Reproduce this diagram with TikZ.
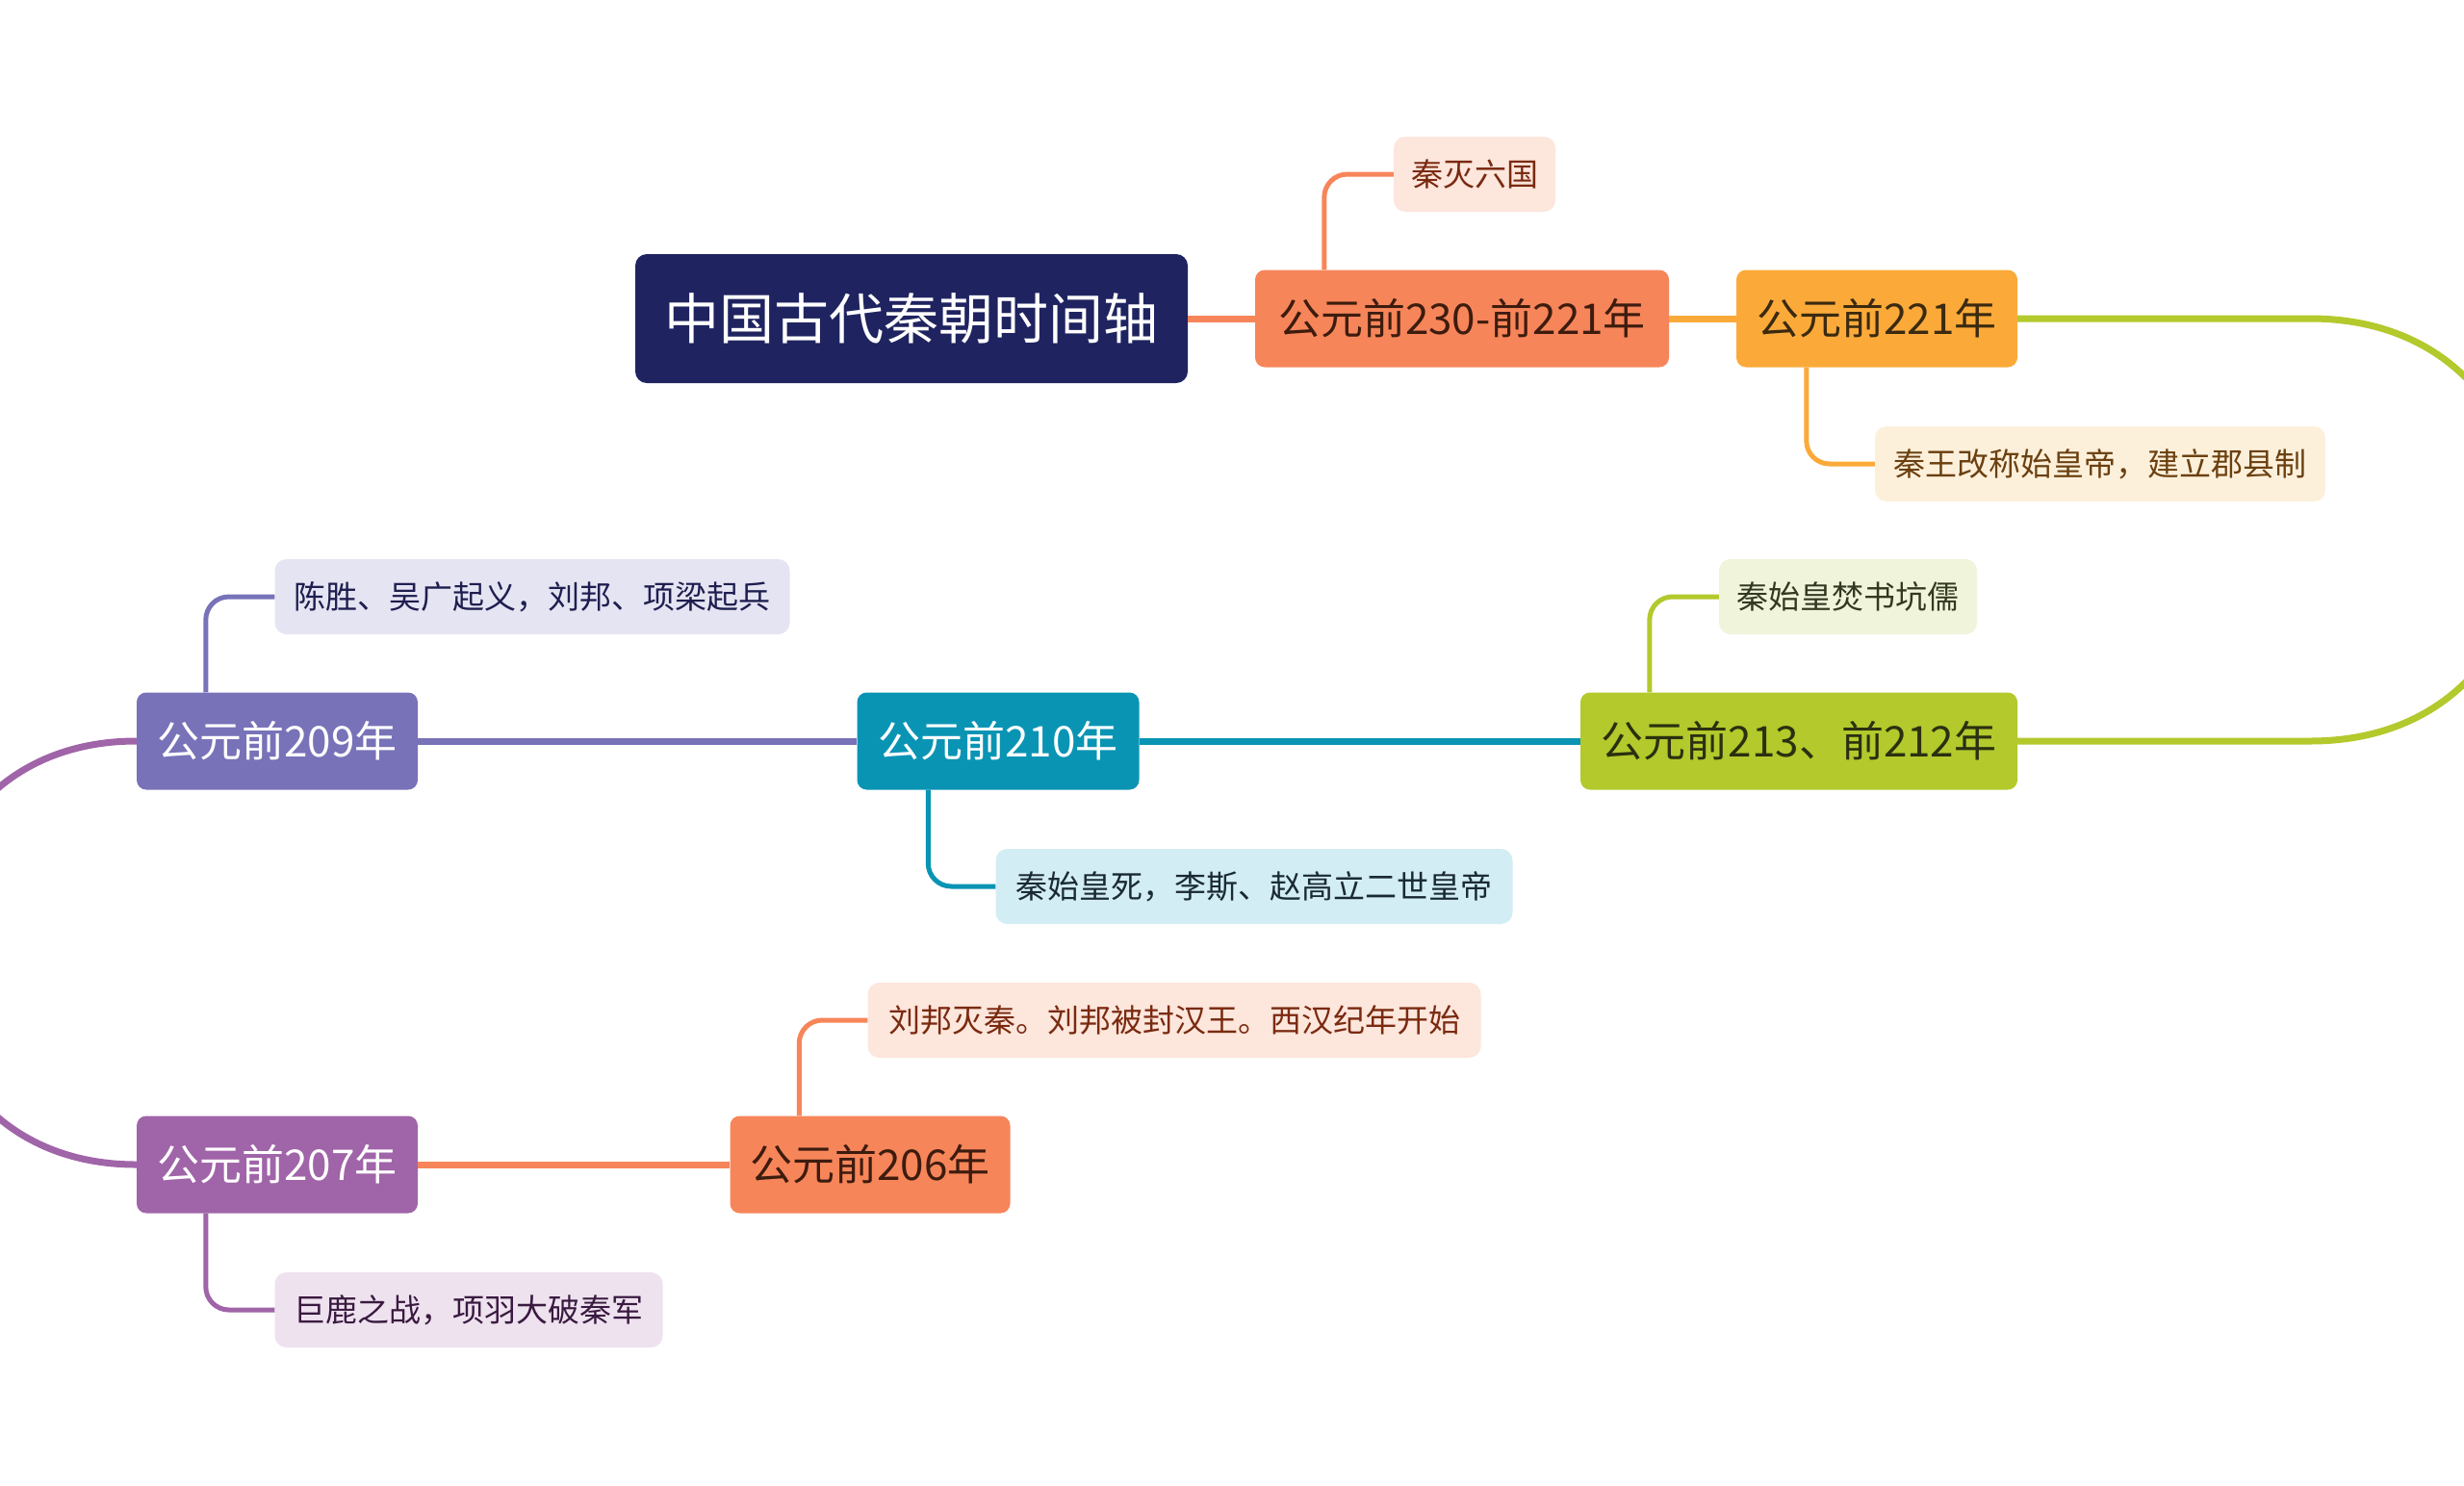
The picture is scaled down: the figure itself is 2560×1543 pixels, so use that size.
\documentclass[tikz,border=0pt]{standalone}
\usepackage{fontspec}
\setmainfont{Noto Sans CJK SC}
\usetikzlibrary{calc}
\definecolor{cRoot}{HTML}{1F2460}
\definecolor{cOrange}{HTML}{F7855A}
\definecolor{cYellow}{HTML}{FBAA3A}
\definecolor{cGreen}{HTML}{B3C92C}
\definecolor{cTeal}{HTML}{0A94B4}
\definecolor{cPurpleA}{HTML}{7872B8}
\definecolor{cPurpleB}{HTML}{A064A8}
\definecolor{lOrange}{HTML}{FDE6DC}
\definecolor{lYellow}{HTML}{FDF0DB}
\definecolor{lGreen}{HTML}{EFF4DB}
\definecolor{lTeal}{HTML}{D2EDF3}
\definecolor{lPurpleA}{HTML}{E5E4F2}
\definecolor{lPurpleB}{HTML}{EEE2EF}
\definecolor{tOrange}{HTML}{3D1C0E}
\definecolor{tYellow}{HTML}{3B2A10}
\definecolor{tGreen}{HTML}{2A3010}
\definecolor{tlOrange}{HTML}{7A2A10}
\definecolor{tlYellow}{HTML}{6B4010}
\definecolor{tlGreen}{HTML}{333820}
\definecolor{tlTeal}{HTML}{1A2A35}
\definecolor{tlPurpleA}{HTML}{1E1E50}
\definecolor{tlPurpleB}{HTML}{3A1A40}
\begin{document}
\begin{tikzpicture}[x=1pt,y=-1pt,
  mainbox/.style={rounded corners=10pt, minimum height=101pt, inner xsep=10pt, inner ysep=0pt, font=\fontsize{44}{50}\selectfont},
  leafbox/.style={rounded corners=12pt, minimum height=78pt, inner xsep=10pt, inner ysep=0pt, font=\fontsize{33}{40}\selectfont},
  mainline/.style={line width=7pt},
  subline/.style={line width=5pt, rounded corners=24pt}]
\useasboundingbox (0,0) rectangle (2560,1543);
\clip (0,0) rectangle (2560,1543);
\fill[white] (0,0) rectangle (2560,1543);

% nodes
\node[mainbox, fill=cRoot, text=white, minimum width=574pt, minimum height=134pt, rounded corners=12pt, font=\fontsize{57}{64}\selectfont] (root) at (947,331) {中国古代秦朝时间轴};
\node[mainbox, fill=cOrange, text=tOrange, minimum width=430pt] (c230) at (1519,331) {公元前230-前221年};
\node[leafbox, fill=lOrange, text=tlOrange, minimum width=168pt] (l1) at (1532,181) {秦灭六国};
\node[mainbox, fill=cYellow, text=tYellow, minimum width=292pt] (c221) at (1950,331) {公元前221年};
\node[leafbox, fill=lYellow, text=tlYellow, minimum width=468pt] (l2) at (2182,482) {秦王改称始皇帝，建立郡县制};
\node[mainbox, fill=cGreen, text=tGreen, minimum width=454pt] (c213) at (1869,770) {公元前213、前212年};
\node[leafbox, fill=lGreen, text=tlGreen, minimum width=268pt] (l3) at (1920,620) {秦始皇焚书坑儒};
\node[mainbox, fill=cTeal, text=white, minimum width=293pt] (c210) at (1037,770) {公元前210年};
\node[leafbox, fill=lTeal, text=tlTeal, minimum width=537pt] (l4) at (1303,921) {秦始皇死，李斯、赵高立二世皇帝};
\node[mainbox, fill=cPurpleA, text=white, minimum width=292pt] (c209) at (288,770) {公元前209年};
\node[leafbox, fill=lPurpleA, text=tlPurpleA, minimum width=535pt] (l5) at (553,620) {陈胜、吴广起义，刘邦、项梁起兵};
\node[mainbox, fill=cPurpleB, text=white, minimum width=292pt] (c207) at (288,1210) {公元前207年};
\node[leafbox, fill=lPurpleB, text=tlPurpleB, minimum width=403pt] (l6) at (487,1361) {巨鹿之战，项羽大破秦军};
\node[mainbox, fill=cOrange, text=tOrange, minimum width=291pt] (c206) at (904,1210) {公元前206年};
\node[leafbox, fill=lOrange, text=tlOrange, minimum width=637pt] (l7) at (1220,1060) {刘邦灭秦。刘邦被封汉王。西汉纪年开始};

% main connectors
\draw[mainline, cOrange] (root.east) -- (c230.west);
\draw[mainline, cYellow] (c230.east) -- (c221.west);
\draw[mainline, cGreen] (c221.east) -- (2400,331) .. controls (2700,331) and (2700,770) .. (2400,770) -- (c213.east);
\draw[mainline, cTeal] (c213.west) -- (c210.east);
\draw[mainline, cPurpleA] (c210.west) -- (c209.east);
\draw[mainline, cPurpleB] (c209.west) .. controls (-150,770) and (-150,1210) .. (c207.west);
\draw[mainline, cOrange] (c207.east) -- (c206.west);

% branch connectors
\draw[subline, cOrange] ([xshift=72pt]c230.north west) |- (l1.west);
\draw[subline, cYellow] ([xshift=73pt]c221.south west) |- (l2.west);
\draw[subline, cGreen] ([xshift=72pt]c213.north west) |- (l3.west);
\draw[subline, cTeal] ([xshift=74pt]c210.south west) |- (l4.west);
\draw[subline, cPurpleA] ([xshift=72pt]c209.north west) |- (l5.west);
\draw[subline, cPurpleB] ([xshift=72pt]c207.south west) |- (l6.west);
\draw[subline, cOrange] ([xshift=72pt]c206.north west) |- (l7.west);
\end{tikzpicture}
\end{document}
